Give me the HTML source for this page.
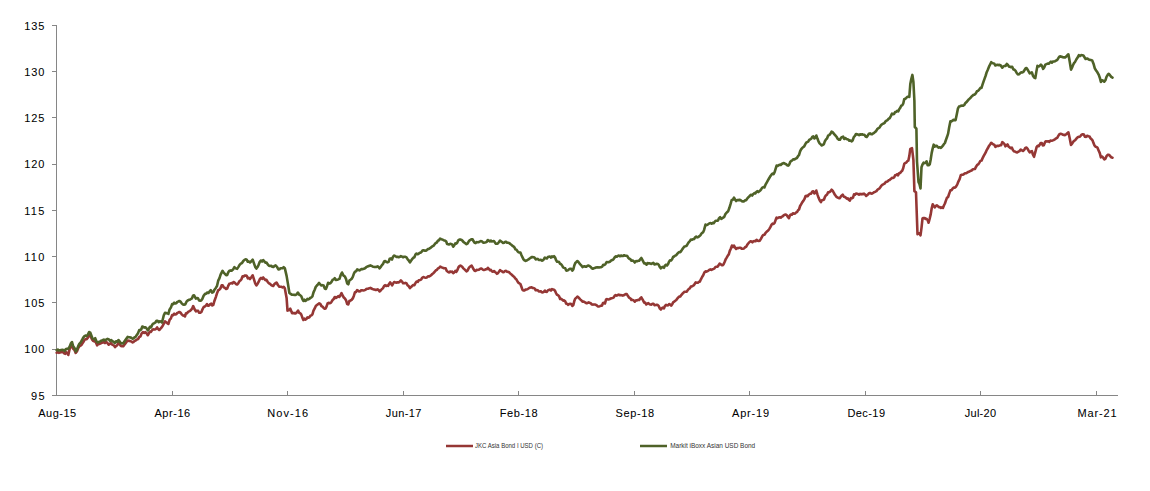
<!DOCTYPE html>
<html><head><meta charset="utf-8"><style>
html,body{margin:0;padding:0;background:#fff;}
body{width:1150px;height:491px;overflow:hidden;}
svg{display:block;}
text{font-family:"Liberation Sans",sans-serif;font-size:11px;fill:#000;stroke:#000;stroke-width:0.06px;}
.lg{font-size:6.5px;fill:#333;stroke:none;}
</style></head><body>
<svg width="1150" height="491" viewBox="0 0 1150 491">
<rect width="1150" height="491" fill="#fff"/>
<g stroke="#868686" stroke-width="1" fill="none" shape-rendering="crispEdges">
<line x1="56.5" y1="25" x2="56.5" y2="396"/>
<line x1="56" y1="395.5" x2="1118" y2="395.5"/>
<line x1="52" y1="395.5" x2="56" y2="395.5"/><line x1="52" y1="349.5" x2="56" y2="349.5"/><line x1="52" y1="302.5" x2="56" y2="302.5"/><line x1="52" y1="256.5" x2="56" y2="256.5"/><line x1="52" y1="210.5" x2="56" y2="210.5"/><line x1="52" y1="164.5" x2="56" y2="164.5"/><line x1="52" y1="117.5" x2="56" y2="117.5"/><line x1="52" y1="71.5" x2="56" y2="71.5"/><line x1="52" y1="25.5" x2="56" y2="25.5"/>
<line x1="172.5" y1="391" x2="172.5" y2="395"/><line x1="287.5" y1="391" x2="287.5" y2="395"/><line x1="403.5" y1="391" x2="403.5" y2="395"/><line x1="518.5" y1="391" x2="518.5" y2="395"/><line x1="634.5" y1="391" x2="634.5" y2="395"/><line x1="749.5" y1="391" x2="749.5" y2="395"/><line x1="865.5" y1="391" x2="865.5" y2="395"/><line x1="980.5" y1="391" x2="980.5" y2="395"/><line x1="1096.5" y1="391" x2="1096.5" y2="395"/>
</g>
<g><text x="31.00" y="399.80" textLength="13.60" lengthAdjust="spacing">95</text><text x="24.20" y="352.80" textLength="20.20" lengthAdjust="spacing">100</text><text x="24.20" y="306.80" textLength="20.20" lengthAdjust="spacing">105</text><text x="24.20" y="260.80" textLength="20.20" lengthAdjust="spacing">110</text><text x="24.20" y="214.80" textLength="20.20" lengthAdjust="spacing">115</text><text x="24.20" y="167.80" textLength="20.20" lengthAdjust="spacing">120</text><text x="24.20" y="121.80" textLength="20.20" lengthAdjust="spacing">125</text><text x="24.20" y="75.80" textLength="20.20" lengthAdjust="spacing">130</text><text x="24.20" y="29.80" textLength="20.20" lengthAdjust="spacing">135</text><text x="38.20" y="417.00" textLength="38.00" lengthAdjust="spacing">Aug-15</text><text x="154.40" y="417.00" textLength="35.80" lengthAdjust="spacing">Apr-16</text><text x="267.20" y="417.00" textLength="40.80" lengthAdjust="spacing">Nov-16</text><text x="385.80" y="417.00" textLength="35.60" lengthAdjust="spacing">Jun-17</text><text x="499.80" y="417.00" textLength="37.80" lengthAdjust="spacing">Feb-18</text><text x="615.60" y="417.00" textLength="38.40" lengthAdjust="spacing">Sep-18</text><text x="732.00" y="417.00" textLength="37.00" lengthAdjust="spacing">Apr-19</text><text x="847.40" y="417.00" textLength="37.60" lengthAdjust="spacing">Dec-19</text><text x="964.80" y="417.00" textLength="31.20" lengthAdjust="spacing">Jul-20</text><text x="1077.40" y="417.00" textLength="39.20" lengthAdjust="spacing">Mar-21</text></g>
<polyline points="56.7,352.7 57.8,351.9 58.9,352.9 60.0,352.4 61.1,352.2 62.2,351.8 63.2,352.3 64.2,353.4 65.2,353.8 66.3,352.2 67.3,353.1 68.3,355.0 69.6,349.2 70.8,346.4 72.0,345.1 73.2,348.9 74.5,350.1 75.7,352.9 76.9,351.5 78.1,348.5 79.3,346.3 80.4,345.7 81.4,344.9 82.5,343.3 83.5,341.8 84.6,339.7 85.6,339.3 86.7,339.1 87.9,337.7 89.1,335.0 90.3,335.6 92.2,339.7 93.2,340.9 94.2,341.4 95.2,340.7 97.1,345.3 98.1,344.2 99.2,344.0 100.2,343.6 101.3,343.1 102.5,342.6 103.8,342.0 105.0,343.1 106.2,342.1 107.4,342.9 108.7,344.7 109.9,343.8 110.9,343.1 111.9,344.3 113.0,345.0 114.0,345.6 115.0,347.1 116.0,346.1 117.2,345.2 118.5,342.4 119.7,344.2 120.9,345.9 122.1,346.2 123.3,346.2 124.4,344.7 125.4,343.4 126.5,341.9 127.6,340.5 128.6,340.9 129.6,340.9 130.6,341.2 131.6,341.6 132.6,342.4 133.6,342.0 134.6,340.9 135.6,340.6 136.8,339.6 138.1,339.0 139.3,337.0 140.5,336.4 141.7,333.3 142.9,332.1 144.2,332.9 145.4,332.2 146.6,333.3 147.8,335.2 148.9,333.4 149.9,331.5 151.0,331.9 152.0,330.4 153.0,329.3 154.1,329.5 155.1,329.4 156.1,328.8 157.1,327.4 158.2,329.1 159.2,330.0 160.2,329.0 161.4,327.6 162.6,326.0 163.8,323.6 165.0,321.4 166.1,322.2 167.2,323.1 168.4,324.0 169.6,319.8 170.9,318.3 172.1,315.1 173.1,315.2 174.2,313.7 175.2,314.4 176.3,314.2 177.3,312.9 178.4,312.5 179.4,312.0 180.6,312.6 181.7,314.4 182.8,315.4 184.0,315.6 185.0,316.4 186.0,313.2 187.1,313.2 188.1,311.8 189.1,311.3 190.1,310.8 191.2,309.8 192.2,308.5 193.2,306.1 194.6,309.3 195.9,311.4 197.0,310.7 198.1,310.9 199.2,312.8 200.3,312.8 201.4,312.0 202.6,309.1 203.7,307.0 204.8,306.5 206.0,305.5 207.0,304.1 208.1,305.8 209.1,305.5 210.2,304.1 211.2,303.7 212.3,305.5 213.3,304.9 214.5,300.7 215.8,297.1 217.0,293.4 218.2,290.2 219.3,289.8 220.4,288.4 221.6,285.4 222.7,285.3 223.8,287.3 225.0,287.9 226.1,289.0 227.2,288.6 228.2,285.9 229.3,283.8 230.3,283.5 231.4,283.1 232.4,283.4 233.5,282.0 234.7,282.6 235.9,284.0 237.1,284.5 238.2,283.3 239.3,281.3 240.4,280.5 241.5,279.1 242.6,276.3 243.7,276.4 244.7,275.6 245.8,275.5 246.8,276.0 247.9,278.4 248.9,277.9 250.0,279.0 251.3,277.3 252.7,275.3 253.9,279.1 255.2,283.3 256.4,285.4 257.5,284.0 258.7,281.7 259.9,278.9 261.0,277.9 262.1,278.9 263.2,277.5 264.3,278.8 265.4,280.1 266.5,279.9 267.6,281.7 268.8,283.3 269.9,283.7 271.0,284.9 272.1,285.6 273.2,286.0 274.3,284.3 275.4,283.3 276.5,282.5 277.9,285.0 279.3,286.8 280.4,286.8 281.5,286.8 282.6,287.5 283.7,286.8 284.8,288.3 286.6,297.9 287.5,310.6 288.9,310.3 290.3,308.7 292.1,313.2 293.1,313.1 294.1,313.0 295.1,313.5 296.1,313.0 297.1,312.0 298.1,310.6 299.1,312.7 300.1,313.1 301.2,314.4 302.3,317.4 303.4,320.0 304.4,318.6 305.4,319.6 306.4,319.0 307.4,317.4 308.4,317.8 309.4,317.2 310.4,315.8 311.4,315.4 312.4,314.3 313.5,310.7 314.7,308.4 315.8,305.9 316.9,305.0 318.1,304.2 319.2,303.4 320.3,304.0 321.4,306.0 322.5,306.6 323.6,307.9 324.6,308.8 325.6,308.5 326.6,306.4 327.6,303.4 328.6,302.8 329.6,303.2 330.6,303.0 331.6,301.7 332.6,300.0 333.7,299.0 334.8,297.0 335.9,298.0 337.1,297.1 338.2,296.1 339.3,296.9 340.4,295.3 341.5,293.1 342.6,295.5 343.8,297.5 344.9,298.5 346.0,300.2 347.2,304.1 348.3,304.4 349.4,301.0 350.5,300.5 351.6,299.9 352.8,298.4 353.9,295.7 355.0,292.2 356.0,292.0 357.1,290.1 358.1,290.7 359.1,291.4 360.2,291.3 361.2,290.2 362.2,290.3 363.2,290.5 364.3,290.3 365.3,289.9 366.3,289.1 367.4,288.8 368.4,288.7 369.4,288.2 370.4,287.9 371.5,288.5 372.5,289.0 373.5,289.4 374.5,289.6 375.5,289.9 376.5,289.9 377.6,289.4 378.6,290.1 379.6,291.4 380.7,290.5 381.9,289.0 383.0,288.2 384.1,286.0 385.1,285.1 386.1,286.0 387.1,285.5 388.1,285.9 389.1,283.9 390.1,282.4 391.1,283.7 392.1,285.3 393.1,283.5 394.2,282.0 395.3,282.4 396.4,282.8 397.6,282.3 398.7,282.4 399.8,281.7 400.9,280.4 402.0,281.6 403.1,283.2 404.3,283.3 405.4,282.9 406.5,283.3 407.6,285.3 408.8,286.3 409.9,288.1 411.0,287.1 412.1,286.0 413.2,285.1 414.4,285.3 415.5,283.0 416.6,281.5 417.7,281.9 418.8,280.3 420.0,280.0 421.1,279.6 422.2,277.8 423.4,277.0 424.5,277.4 425.6,277.7 426.7,277.4 427.9,276.4 429.0,276.5 430.1,275.9 431.2,275.2 432.3,274.0 433.4,273.2 434.6,271.8 435.7,270.5 436.8,269.9 437.9,268.4 439.0,268.0 440.2,266.6 441.3,267.2 442.4,267.6 443.5,268.1 444.6,268.3 445.7,268.4 446.8,271.0 447.9,271.8 449.0,272.4 450.1,271.5 451.2,272.0 452.2,271.6 453.2,273.1 454.3,272.4 455.3,270.9 456.3,271.8 457.3,270.2 458.4,267.4 459.4,266.1 460.4,265.5 461.4,266.1 462.4,267.0 463.4,268.4 464.5,269.4 465.5,270.3 466.5,271.3 467.5,270.7 468.5,268.6 469.6,267.1 470.6,266.3 471.6,265.6 472.6,267.4 473.6,269.3 474.6,270.7 475.6,271.0 476.6,269.8 477.6,270.0 478.7,269.8 479.7,269.2 480.7,268.6 481.7,268.6 482.8,269.6 483.8,270.0 484.8,269.7 485.8,269.3 486.8,269.3 487.9,267.8 488.9,269.0 489.9,270.3 490.9,269.9 491.9,271.4 492.9,271.8 494.0,271.0 495.0,272.0 496.0,272.7 497.0,273.8 498.0,273.1 499.0,271.6 500.0,270.1 501.0,270.8 502.0,271.4 503.1,272.2 504.1,271.9 505.1,271.0 506.1,270.9 507.1,271.8 508.2,271.9 509.2,272.3 510.2,273.5 511.2,274.2 512.2,275.3 513.3,276.1 514.3,277.1 515.3,278.5 516.3,279.3 517.4,281.2 518.4,282.7 519.4,283.4 520.4,284.0 521.4,286.8 522.4,289.7 523.4,290.5 524.5,290.4 525.5,289.6 526.5,289.5 527.5,289.1 528.5,288.5 529.6,287.7 530.6,287.4 531.6,287.2 532.6,288.0 533.7,288.0 534.7,288.6 535.7,290.3 536.7,290.1 537.7,290.2 538.8,291.4 539.8,291.5 540.8,291.2 541.8,292.3 542.8,292.4 543.8,291.9 544.9,290.6 545.9,291.8 546.9,291.9 547.9,290.4 548.9,289.9 550.0,289.6 551.0,290.5 552.0,289.1 553.0,289.6 554.0,289.8 555.0,290.7 556.0,293.1 557.0,294.7 558.0,295.1 559.1,296.3 560.1,299.0 561.1,298.9 562.2,299.6 563.2,300.7 564.2,300.4 565.2,301.2 566.2,303.7 567.2,303.8 568.2,304.9 569.2,304.0 570.2,303.8 571.3,304.0 572.3,306.0 573.3,305.1 574.3,301.1 575.3,298.6 576.4,297.6 577.4,296.6 578.4,297.3 579.4,298.5 580.5,299.6 581.5,300.5 582.5,301.7 583.5,301.6 584.5,301.9 585.6,302.8 586.6,303.2 587.6,302.9 588.6,302.4 589.6,302.8 590.7,303.2 591.7,304.4 592.7,304.6 593.7,304.5 594.7,304.5 595.8,304.8 596.8,305.4 597.8,306.5 598.8,306.5 599.9,306.1 600.9,305.7 601.9,305.7 603.0,302.9 604.0,302.7 605.0,303.5 606.1,299.4 607.1,299.1 608.2,299.5 609.2,299.2 610.3,298.7 611.4,298.2 612.5,298.0 613.6,297.6 614.6,295.9 615.7,295.1 616.7,295.6 617.7,295.0 618.7,294.6 619.7,295.3 620.7,295.1 621.7,295.3 622.7,295.6 623.7,295.2 624.7,294.8 625.7,294.1 626.8,294.1 628.0,296.1 629.1,297.7 630.3,298.3 631.4,300.0 632.5,299.9 633.7,300.4 634.8,301.7 636.0,300.2 637.1,300.4 638.1,299.9 639.2,299.9 640.2,298.5 641.3,297.3 642.8,299.8 644.2,302.6 645.2,302.6 646.3,304.5 647.3,303.8 648.3,303.1 649.4,304.2 650.4,304.4 651.5,304.6 652.5,303.8 653.5,303.9 654.6,305.3 655.6,305.1 656.7,304.8 657.8,305.1 658.8,306.2 659.9,308.6 660.9,309.5 661.9,308.2 662.9,307.6 664.0,308.3 665.0,305.8 666.0,304.8 667.0,305.4 668.1,305.3 669.1,304.1 670.2,304.4 671.3,305.6 672.3,304.0 673.3,302.2 674.3,301.6 675.3,300.7 676.3,300.0 677.3,298.6 678.3,297.4 679.3,296.6 680.3,296.5 681.3,295.1 682.4,293.7 683.4,292.8 684.5,291.7 685.5,291.8 686.6,291.8 687.7,290.3 688.7,289.0 689.8,288.3 690.8,286.6 691.8,286.4 692.8,285.8 693.8,285.4 694.8,283.8 695.8,282.3 696.8,282.8 697.8,282.8 698.8,281.8 699.8,281.8 700.9,279.3 702.1,277.0 703.2,275.3 704.4,272.4 705.5,271.3 706.5,271.7 707.5,271.2 708.5,270.5 709.5,269.7 710.5,269.4 711.5,269.9 712.5,269.2 713.5,269.0 714.5,268.4 715.5,266.9 716.5,266.7 717.5,266.7 718.5,265.4 719.6,263.6 720.6,264.2 721.6,265.2 722.6,265.2 723.6,264.3 724.7,261.8 725.7,259.2 726.7,257.6 727.7,255.8 728.8,254.4 729.8,250.9 730.8,248.7 731.9,245.6 733.0,246.9 734.0,245.6 735.1,247.6 736.1,248.9 737.2,248.0 738.3,248.1 739.4,247.7 740.6,247.7 741.7,248.7 742.9,248.7 744.0,248.5 745.0,247.3 746.1,246.8 747.1,245.1 748.2,243.5 749.2,242.4 750.3,241.4 751.3,241.4 752.4,242.3 753.4,241.2 754.5,241.0 755.6,241.2 756.6,239.9 757.7,240.7 758.7,240.9 759.8,240.7 760.9,238.8 762.1,236.6 763.2,235.0 764.4,234.8 765.4,233.2 766.4,232.0 767.5,231.1 768.5,230.1 769.5,228.6 770.5,226.9 771.6,224.7 772.6,223.6 773.6,223.9 774.6,222.8 775.6,220.1 776.6,217.6 777.6,218.1 778.6,217.5 779.7,217.2 780.7,217.7 781.7,216.8 782.7,216.4 783.8,215.2 784.8,214.8 785.8,214.5 786.8,215.3 787.9,216.9 788.9,218.2 789.9,215.5 790.9,214.5 791.9,214.6 792.9,213.3 794.0,213.8 795.0,213.6 796.0,212.5 797.0,212.1 798.0,210.3 799.0,209.5 800.1,206.0 801.1,204.3 802.2,202.4 803.4,200.8 804.5,198.9 805.6,196.1 806.7,195.9 807.8,196.1 808.9,194.5 810.0,193.8 811.1,193.6 812.2,191.8 813.3,191.3 814.3,193.5 815.3,192.5 816.3,190.5 817.4,194.3 818.6,197.8 819.8,200.5 820.9,202.1 821.9,200.2 822.9,200.0 824.0,199.5 825.0,196.7 826.0,195.3 827.0,194.7 828.1,192.3 829.3,192.1 830.5,191.3 831.6,189.7 832.8,190.9 833.9,193.0 835.1,195.1 836.2,196.6 837.3,197.3 838.4,198.0 839.5,198.3 840.5,197.1 841.6,195.6 842.7,194.6 843.8,196.7 844.8,196.9 845.8,197.6 846.8,198.7 847.9,198.4 848.9,200.0 849.9,200.6 850.9,198.0 851.9,198.3 853.0,197.7 854.0,194.4 855.0,194.8 856.0,193.5 857.0,193.8 858.0,194.1 859.0,194.7 860.1,193.9 861.1,194.4 862.1,193.9 863.1,194.3 864.1,193.6 865.2,194.6 866.2,195.9 867.2,195.1 868.2,194.2 869.2,193.0 870.2,193.0 871.3,193.6 872.3,193.5 873.3,192.8 874.3,192.1 875.4,191.7 876.4,191.2 877.4,189.8 878.4,189.1 879.4,188.5 880.5,187.0 881.5,185.6 882.5,184.6 883.5,184.2 884.5,183.7 885.5,182.3 886.5,181.7 887.6,181.4 888.6,180.3 889.6,180.0 890.7,179.1 891.9,177.9 893.0,178.0 894.1,177.3 895.1,175.3 896.1,175.0 897.1,174.2 898.1,175.3 899.1,173.2 900.2,172.9 901.2,171.6 902.2,170.7 903.2,168.2 904.3,163.8 905.3,163.0 906.3,162.6 907.3,161.2 908.3,160.7 909.3,156.1 910.3,148.9 912.0,148.2 913.4,159.8 914.4,191.1 916.0,192.2 917.5,234.2 918.5,233.5 919.5,233.4 920.5,235.3 921.5,227.8 922.5,218.5 923.5,218.0 924.6,218.0 925.6,219.0 926.6,218.8 927.6,220.0 928.6,222.7 929.6,219.0 930.7,214.4 931.7,208.2 932.7,204.3 933.7,205.9 934.7,207.4 935.8,205.9 936.8,205.4 937.8,206.1 938.8,207.1 939.8,207.0 940.9,208.0 941.9,207.4 942.9,208.0 943.9,205.5 944.9,203.5 945.9,200.6 946.9,197.9 948.1,197.0 949.2,193.6 950.4,190.4 951.5,190.2 952.7,188.5 953.8,187.6 955.0,187.6 956.1,186.5 957.3,184.3 958.5,181.3 959.6,179.1 960.8,175.1 961.8,174.7 962.9,174.8 963.9,174.1 965.0,173.3 966.0,173.3 967.1,172.7 968.3,171.9 969.5,171.5 970.6,170.8 971.8,170.4 972.9,169.2 974.0,169.1 975.0,168.9 976.1,166.7 977.2,164.9 978.3,164.3 979.4,162.6 980.4,160.9 981.5,160.6 982.5,158.4 983.6,156.2 984.6,154.4 985.7,152.4 986.7,150.1 987.8,148.3 989.0,145.9 990.1,144.4 991.2,142.8 992.2,143.7 993.3,144.3 994.4,144.9 995.4,146.8 996.5,146.1 997.7,145.8 998.8,145.9 1000.0,145.3 1001.1,145.2 1002.3,142.1 1003.3,142.9 1004.4,143.9 1005.4,146.3 1006.5,145.5 1007.5,144.5 1008.6,146.5 1009.6,147.4 1010.7,148.1 1011.8,147.6 1012.9,150.0 1014.0,151.3 1015.0,151.6 1016.1,152.2 1017.2,152.4 1018.4,151.7 1019.5,151.1 1020.7,149.5 1021.9,150.3 1023.0,151.0 1024.2,149.9 1025.3,148.0 1026.5,147.6 1027.6,148.9 1028.6,150.7 1029.7,152.4 1030.8,151.5 1031.9,151.2 1032.9,154.5 1034.0,156.8 1035.3,152.2 1036.6,147.1 1037.6,145.9 1038.7,146.1 1039.7,144.8 1040.7,143.0 1041.8,143.1 1042.8,145.4 1043.8,145.2 1044.9,142.4 1045.9,141.2 1047.0,141.5 1048.2,141.2 1049.3,141.8 1050.4,140.5 1051.5,140.7 1052.7,140.4 1053.8,140.0 1054.9,139.3 1056.1,138.4 1057.2,137.9 1058.3,135.9 1059.4,134.2 1060.6,133.8 1061.7,134.0 1062.8,134.7 1063.9,134.9 1065.1,135.1 1066.2,134.2 1067.3,133.2 1068.4,132.3 1069.7,138.2 1071.0,145.0 1072.1,143.7 1073.2,141.8 1074.3,140.8 1075.4,139.9 1076.5,138.5 1077.6,137.3 1078.6,136.9 1079.6,136.8 1080.6,135.8 1081.6,134.7 1082.7,134.3 1083.9,134.6 1085.0,136.8 1086.1,136.9 1087.2,135.7 1088.4,136.2 1089.5,136.5 1090.5,138.3 1091.5,139.2 1092.5,140.3 1093.5,143.1 1094.5,145.5 1095.5,146.7 1096.5,146.9 1097.5,147.8 1098.6,150.4 1099.8,153.1 1100.9,157.3 1102.0,156.5 1103.2,157.7 1104.3,159.4 1105.4,158.8 1106.5,156.2 1107.7,154.9 1108.8,154.7 1110.0,155.8 1111.3,157.3 1112.5,157.7" fill="none" stroke="#953735" stroke-width="2.6" stroke-linejoin="round" stroke-linecap="round"/>
<polyline points="56.7,350.2 57.8,349.5 58.9,350.6 60.0,350.2 61.1,350.1 62.2,349.7 63.4,350.0 64.7,351.0 65.9,349.0 67.1,348.9 68.3,348.8 69.6,346.7 70.8,343.6 72.0,342.0 73.2,346.3 74.5,348.0 75.7,351.4 76.9,349.7 78.1,346.4 79.3,343.9 80.5,342.6 81.8,340.5 83.0,338.0 84.2,336.4 85.5,335.6 86.7,336.0 87.9,334.6 89.1,332.0 90.3,332.7 92.2,337.8 93.2,338.8 94.2,339.1 95.2,338.2 96.5,341.4 97.7,342.5 98.9,341.9 100.1,341.5 101.3,340.7 102.5,340.2 103.8,339.6 105.0,340.6 106.2,339.6 107.5,338.9 108.7,339.2 109.9,340.8 111.1,340.0 112.3,341.2 113.6,341.8 114.8,343.0 116.0,341.4 117.3,341.6 118.5,340.0 119.7,341.6 120.9,343.2 122.1,343.4 123.3,343.2 124.4,341.5 125.4,340.1 126.5,338.5 127.6,336.9 128.6,337.3 129.6,337.2 130.6,337.5 131.6,338.0 132.6,338.7 133.6,338.3 134.6,337.2 135.6,336.9 136.8,334.9 138.0,333.2 139.2,330.1 140.2,330.3 141.3,329.3 142.3,326.5 143.3,327.0 144.4,327.6 145.4,327.3 146.6,328.4 147.8,330.4 148.9,328.7 149.9,326.8 151.0,327.3 152.1,325.1 153.2,323.6 154.3,323.2 155.4,322.5 156.5,320.8 157.6,320.7 158.7,322.2 159.8,321.3 160.9,321.5 162.0,322.5 163.8,315.3 165.0,312.7 166.1,313.0 167.2,313.4 168.4,313.9 169.6,309.4 170.9,307.6 172.1,304.1 173.1,304.2 174.2,302.7 175.2,303.4 176.3,303.2 177.3,301.9 178.4,301.5 179.4,301.0 180.6,301.6 181.7,303.4 182.8,304.4 184.0,304.6 185.2,304.5 186.5,301.7 187.7,300.5 188.8,299.9 189.8,299.8 190.9,299.0 192.0,298.3 193.0,295.8 194.1,295.3 195.9,298.6 197.0,298.1 198.0,298.3 199.1,300.5 200.2,300.7 201.2,300.4 202.3,299.0 203.7,295.6 205.1,293.9 206.2,293.7 207.3,292.5 208.5,293.0 209.6,291.5 210.8,290.2 212.1,292.7 213.3,292.1 214.5,289.7 215.8,287.9 217.0,286.0 218.2,280.7 219.4,278.3 220.6,274.6 222.5,270.8 223.7,272.7 224.9,273.9 226.1,275.2 227.2,274.9 228.3,272.3 229.4,270.7 230.5,270.4 231.6,270.7 233.0,269.6 234.4,267.1 235.8,268.4 237.1,268.9 238.3,267.1 239.6,264.9 240.8,263.6 242.0,263.0 243.3,261.0 244.5,259.9 245.6,259.3 246.7,259.7 247.8,261.8 248.9,261.6 250.0,262.5 251.3,261.3 252.7,259.7 253.9,263.1 255.2,266.9 256.4,268.6 257.5,267.1 258.7,264.6 259.9,261.6 261.0,260.5 262.1,261.5 263.2,260.1 264.3,261.4 265.4,262.7 266.5,262.5 267.7,264.4 268.9,265.7 270.1,266.0 271.2,265.7 272.3,266.7 273.4,267.0 274.5,265.9 275.6,265.4 277.0,266.8 278.4,269.4 279.5,269.2 280.5,268.3 281.6,268.3 282.7,268.2 283.7,267.1 284.8,268.1 286.6,275.9 288.0,284.1 289.4,293.0 290.6,293.8 291.8,294.6 293.0,294.8 294.5,294.9 295.6,295.0 296.7,294.2 297.9,292.5 299.0,294.5 300.1,295.1 301.2,296.1 302.3,298.8 303.4,301.0 304.4,299.7 305.4,300.9 306.4,300.4 307.4,298.9 308.4,299.4 309.4,298.9 310.4,297.7 311.4,297.4 312.4,296.4 313.5,292.4 314.7,289.7 315.8,286.8 316.9,285.5 318.0,284.3 319.1,282.9 320.2,284.4 321.4,285.5 322.5,285.1 323.6,285.5 324.8,288.5 325.9,289.0 327.0,286.2 328.1,282.8 329.2,283.6 330.4,283.2 331.5,281.9 332.6,279.8 333.7,279.5 334.8,278.2 336.0,279.9 337.1,279.7 338.2,279.4 339.5,278.9 340.7,275.0 342.0,272.5 343.4,275.4 344.9,276.6 346.0,278.9 347.2,283.4 348.3,284.3 349.4,280.5 350.5,279.7 351.7,278.7 352.8,276.9 353.9,273.7 355.0,271.6 356.1,271.2 357.2,269.4 358.4,270.0 359.5,270.4 360.6,269.6 361.7,269.0 362.8,269.1 363.9,268.7 365.0,268.3 366.2,267.2 367.3,266.6 368.4,266.3 369.4,265.7 370.4,265.4 371.5,265.9 372.5,266.4 373.5,266.7 374.5,266.9 375.5,267.0 376.5,266.9 377.6,266.4 378.6,267.1 379.6,268.3 380.7,267.0 381.9,265.1 383.0,264.0 384.1,261.4 385.2,261.0 386.4,262.0 387.5,262.4 388.6,261.9 389.7,258.8 390.9,258.4 392.0,259.5 393.1,256.6 394.2,255.5 395.3,256.2 396.5,256.9 397.6,256.8 398.7,257.3 399.8,256.9 400.9,256.1 402.1,256.6 403.2,257.3 404.3,256.7 405.4,256.8 406.5,257.4 407.7,259.4 408.8,260.5 409.9,262.4 411.0,260.8 412.1,259.2 413.3,257.8 414.4,257.3 415.5,254.4 416.5,253.5 417.5,254.3 418.5,253.8 419.5,252.8 420.5,252.8 421.5,251.9 422.5,250.5 423.5,250.2 424.5,250.6 425.6,250.7 426.7,250.2 427.8,249.1 428.9,248.9 430.1,248.2 431.2,247.2 432.3,246.4 433.4,245.9 434.5,244.5 435.6,243.1 436.8,242.5 437.9,240.7 439.0,240.2 440.1,238.6 441.3,239.2 442.4,239.5 443.6,240.2 444.9,240.6 446.1,241.3 447.1,244.0 448.1,244.2 449.1,244.5 450.2,243.7 451.2,244.1 452.2,244.4 453.2,246.7 454.2,245.5 455.3,243.4 456.3,243.7 457.3,242.6 458.3,240.3 459.4,239.6 460.4,239.5 461.4,239.9 462.4,240.6 463.4,241.9 464.5,242.7 465.5,243.4 466.5,244.2 467.5,243.7 468.5,241.8 469.6,240.4 470.6,239.8 471.6,239.2 472.6,239.3 473.6,241.3 474.6,242.8 475.6,243.1 476.6,242.0 477.6,242.2 478.7,242.2 479.7,241.6 480.7,241.1 481.7,241.2 482.7,242.2 483.8,242.7 484.8,242.5 485.8,242.2 486.8,241.8 487.8,240.0 488.8,240.6 489.9,241.4 490.9,240.6 491.9,241.4 492.9,241.3 493.9,241.1 495.0,242.6 496.0,243.8 497.0,243.8 498.0,243.3 499.0,242.0 500.0,240.6 501.0,241.4 502.0,242.0 503.1,242.9 504.1,242.7 505.1,241.9 506.1,241.8 507.1,242.7 508.2,242.8 509.2,243.0 510.2,244.0 511.2,244.6 512.2,245.6 513.3,246.3 514.3,247.2 515.3,249.2 516.3,249.6 517.4,251.1 518.4,252.2 519.4,252.4 520.4,252.6 521.4,255.0 522.4,257.2 523.5,259.3 524.5,260.4 525.5,260.9 526.5,260.6 527.5,260.0 528.5,259.4 529.6,258.5 530.6,257.9 531.6,257.1 532.6,257.1 533.6,257.2 534.6,257.7 535.7,259.4 536.7,259.1 537.7,258.9 538.7,260.0 539.8,260.0 540.8,259.7 541.8,260.7 542.8,260.3 543.8,259.3 544.9,257.5 545.9,258.2 546.9,258.5 547.9,257.1 548.9,256.8 550.0,256.5 551.0,257.6 552.0,256.4 553.0,257.0 554.0,256.2 555.0,257.3 556.0,260.0 557.1,261.7 558.1,261.8 559.1,262.1 560.1,263.8 561.1,264.2 562.1,265.5 563.1,267.4 564.1,267.9 565.2,268.3 566.2,270.6 567.2,270.5 568.2,270.1 569.2,269.1 570.2,268.7 571.3,268.7 572.3,270.6 573.3,269.5 574.3,265.5 575.3,263.0 576.4,262.0 577.4,261.0 578.4,261.9 579.4,263.3 580.5,264.6 581.5,265.7 582.5,267.1 583.5,266.5 584.5,266.2 585.6,266.7 586.6,266.6 587.6,265.8 588.6,265.5 589.6,266.2 590.6,266.8 591.7,268.2 592.7,268.8 593.7,268.3 594.7,268.0 595.9,267.5 597.1,267.4 598.1,267.4 599.2,267.5 600.2,267.3 601.2,267.2 602.2,266.7 603.3,264.7 604.3,265.0 605.4,264.2 606.6,262.0 607.7,262.3 608.9,262.1 610.0,261.7 611.1,260.5 612.3,260.1 613.4,259.4 614.6,257.5 615.7,256.3 616.8,256.7 617.8,255.9 618.9,255.5 620.0,256.3 621.0,255.5 622.1,256.0 623.1,255.9 624.2,255.2 625.2,255.8 626.3,255.8 627.3,256.1 628.3,257.9 629.3,258.8 630.4,259.3 631.4,260.6 632.5,260.5 633.7,261.1 634.8,262.5 636.0,261.1 637.1,261.3 638.1,260.8 639.2,260.7 640.2,259.3 641.3,258.0 642.8,260.6 644.2,263.5 645.3,263.4 646.5,264.7 647.6,263.1 648.8,263.4 649.9,263.4 651.0,263.9 652.2,263.5 653.3,262.8 654.5,264.4 655.6,264.3 656.7,263.8 657.8,264.0 658.8,264.9 659.9,267.2 660.9,268.3 661.9,267.3 662.9,266.9 664.0,267.8 665.0,265.5 666.0,264.7 667.0,265.5 668.0,264.2 669.0,261.7 670.0,260.4 671.1,260.5 672.1,259.2 673.1,257.0 674.1,256.5 675.1,255.6 676.2,255.2 677.2,253.9 678.2,252.8 679.2,252.1 680.3,252.1 681.3,250.9 682.4,249.1 683.4,247.8 684.5,246.4 685.5,246.2 686.6,245.8 687.7,243.9 688.7,242.3 689.8,241.2 690.9,239.6 691.9,239.8 693.0,239.2 694.1,239.0 695.2,237.2 696.2,236.5 697.3,237.4 698.4,237.0 699.5,236.1 700.7,234.8 701.8,233.1 703.0,232.4 704.1,229.9 705.5,224.6 706.5,225.1 707.5,224.7 708.5,224.0 709.6,223.2 710.6,223.1 711.6,223.7 712.6,222.9 713.7,223.1 714.8,221.7 715.8,220.7 716.9,220.7 718.0,220.6 719.1,218.1 720.1,217.2 721.2,218.9 722.2,218.3 723.2,217.6 724.2,216.9 725.3,214.3 726.3,212.9 727.3,212.1 728.3,210.9 729.4,207.8 730.6,203.9 731.7,200.0 732.9,199.7 734.0,197.7 735.1,199.7 736.1,201.0 737.2,200.0 738.3,200.1 739.4,199.9 740.6,200.1 741.7,201.2 742.9,201.4 744.0,201.4 745.0,200.4 746.1,200.2 747.1,198.8 748.2,197.4 749.2,196.6 750.2,195.3 751.2,194.7 752.2,195.5 753.2,194.1 754.3,193.1 755.3,193.4 756.3,192.0 757.3,191.2 758.3,192.1 759.3,191.2 760.3,190.4 761.3,189.1 762.4,187.6 763.4,187.1 764.4,187.4 765.5,184.7 766.7,182.6 767.9,180.4 769.0,178.5 770.1,176.6 771.3,174.9 772.5,173.5 773.6,174.1 774.6,172.2 775.6,168.8 776.6,165.6 777.6,166.0 778.6,165.2 779.7,164.8 780.7,165.0 781.7,164.0 782.7,163.5 783.9,163.0 785.0,163.7 786.1,164.2 787.3,165.4 788.3,165.6 789.3,164.4 790.3,161.7 791.4,160.9 792.4,160.2 793.4,159.2 794.5,159.4 795.7,158.6 796.9,158.0 798.0,156.2 799.0,155.1 800.1,151.4 801.1,149.4 802.1,148.2 803.1,147.2 804.2,146.4 805.2,144.4 806.2,142.7 807.2,142.1 808.2,141.6 809.2,139.9 810.2,139.3 811.3,138.7 812.3,136.9 813.3,136.3 814.3,138.5 815.3,137.5 816.3,135.5 817.4,138.6 818.5,141.3 819.6,143.4 820.7,144.4 821.8,145.5 822.8,144.9 823.9,144.1 824.9,141.2 826.0,139.4 827.0,138.5 828.1,135.7 829.3,135.0 830.5,133.7 831.6,131.7 832.6,132.2 833.6,133.4 834.7,134.8 835.7,135.7 836.7,137.0 837.7,138.8 838.8,139.6 839.9,139.8 841.0,137.8 842.0,137.1 843.1,136.6 844.2,139.0 845.3,138.0 846.3,138.9 847.4,139.2 848.4,139.6 849.4,140.8 850.5,140.5 851.5,141.4 852.6,140.5 853.8,137.1 854.9,135.9 856.0,134.0 857.0,134.3 858.0,134.6 859.0,135.1 860.1,134.3 861.1,134.7 862.1,134.2 863.2,134.8 864.4,134.8 865.6,136.5 866.7,137.0 867.8,135.4 868.9,133.8 870.0,133.4 871.1,134.1 872.2,134.1 873.3,133.3 874.4,132.6 875.4,131.8 876.4,130.6 877.5,128.8 878.5,128.2 879.5,127.5 880.5,125.9 881.5,124.7 882.5,123.9 883.5,123.6 884.5,123.0 885.6,121.3 886.6,120.6 887.6,120.1 888.6,118.7 889.6,118.3 890.8,116.1 892.0,113.7 893.0,114.3 894.0,114.0 895.1,112.1 896.1,112.0 897.1,110.9 898.2,111.4 899.2,109.2 900.2,107.9 901.2,105.8 902.2,105.4 903.2,103.7 904.2,99.3 905.3,98.8 906.3,97.8 907.3,96.8 908.3,96.7 909.3,96.9 910.3,84.1 911.3,79.0 912.4,74.9 913.4,81.9 914.4,101.0 914.8,127.0 916.4,128.7 917.0,161.5 918.5,182.0 919.5,184.2 920.5,188.5 921.5,167.2 922.5,164.5 923.6,162.7 924.6,163.1 925.6,162.8 926.6,161.3 927.6,165.3 928.7,165.3 929.7,164.4 930.7,159.4 931.7,152.9 932.7,148.4 933.7,144.7 934.7,146.7 935.8,145.8 936.8,145.9 937.8,147.1 938.8,147.7 939.8,147.2 940.9,147.8 941.9,146.8 942.9,145.7 943.9,144.1 944.9,143.0 945.9,140.0 946.9,137.3 948.1,133.6 949.2,127.3 950.4,121.2 951.4,121.4 952.5,120.7 953.5,119.8 954.6,120.2 955.6,120.1 956.7,114.7 957.9,108.7 959.0,106.5 960.0,106.2 961.1,105.7 962.1,105.5 963.2,105.7 964.2,105.0 965.2,103.3 966.3,102.3 967.3,101.1 968.4,99.8 969.4,98.9 970.4,98.0 971.5,96.7 972.5,95.7 973.6,94.7 974.6,94.6 975.8,93.3 976.9,91.3 978.0,90.9 979.2,89.6 980.4,87.9 981.5,87.9 982.5,84.7 983.6,81.4 984.6,78.6 985.7,75.5 986.7,72.2 987.8,69.7 989.0,66.7 990.1,64.5 991.2,62.2 992.2,63.0 993.3,63.4 994.4,63.8 995.4,65.5 996.4,65.1 997.5,64.8 998.5,65.1 999.6,64.9 1000.6,65.2 1002.3,67.7 1003.4,66.4 1004.6,65.9 1005.7,66.0 1006.8,63.9 1007.9,65.0 1009.0,66.6 1010.0,66.7 1011.1,67.2 1012.2,66.8 1013.3,69.2 1014.4,69.7 1015.6,70.9 1016.7,73.0 1017.9,74.4 1019.0,74.3 1020.2,73.1 1021.3,72.3 1022.3,72.5 1023.4,71.8 1024.4,70.2 1025.5,68.5 1026.5,68.0 1027.5,69.5 1028.6,71.4 1029.7,73.4 1030.7,72.9 1031.8,72.3 1033.0,75.7 1034.2,77.6 1035.3,78.1 1036.3,72.1 1037.4,65.9 1038.6,66.5 1039.7,65.9 1040.9,64.6 1042.0,65.9 1043.2,68.9 1044.3,67.2 1045.4,64.6 1046.5,64.1 1047.6,63.6 1048.7,63.8 1049.8,62.7 1050.9,61.6 1051.9,62.7 1053.0,61.5 1054.0,61.5 1055.1,61.2 1056.2,60.5 1057.3,59.9 1058.4,58.1 1059.5,56.6 1060.6,56.4 1061.7,56.8 1062.8,57.3 1063.9,57.4 1065.1,57.5 1066.2,56.5 1067.3,55.3 1068.4,54.3 1069.7,61.5 1071.0,69.6 1072.0,67.7 1073.0,65.1 1074.0,63.2 1075.0,62.0 1076.3,59.5 1077.6,57.5 1078.9,55.2 1080.0,56.1 1081.1,55.1 1082.2,55.2 1083.4,55.5 1084.5,57.2 1085.6,59.0 1086.6,58.6 1087.7,58.6 1088.7,59.5 1089.8,59.9 1090.8,60.0 1092.2,60.4 1093.5,63.7 1094.8,68.3 1096.1,70.5 1097.4,72.3 1098.8,74.9 1099.8,77.7 1100.9,81.9 1102.0,80.3 1103.2,80.7 1104.3,81.7 1105.4,80.3 1106.5,76.9 1107.7,74.8 1108.8,73.8 1110.0,75.2 1111.3,76.9 1112.5,77.6" fill="none" stroke="#4F6228" stroke-width="2.6" stroke-linejoin="round" stroke-linecap="round"/>
<line x1="446" y1="446" x2="473" y2="446" stroke="#953735" stroke-width="2.5"/>
<text class="lg" x="475" y="448" textLength="68" lengthAdjust="spacingAndGlyphs">JKC Asia Bond I USD (C)</text>
<line x1="640" y1="446" x2="667" y2="446" stroke="#4F6228" stroke-width="2.5"/>
<text class="lg" x="670.2" y="448" textLength="85" lengthAdjust="spacingAndGlyphs">Markit iBoxx Asian USD Bond</text>
</svg>
</body></html>
